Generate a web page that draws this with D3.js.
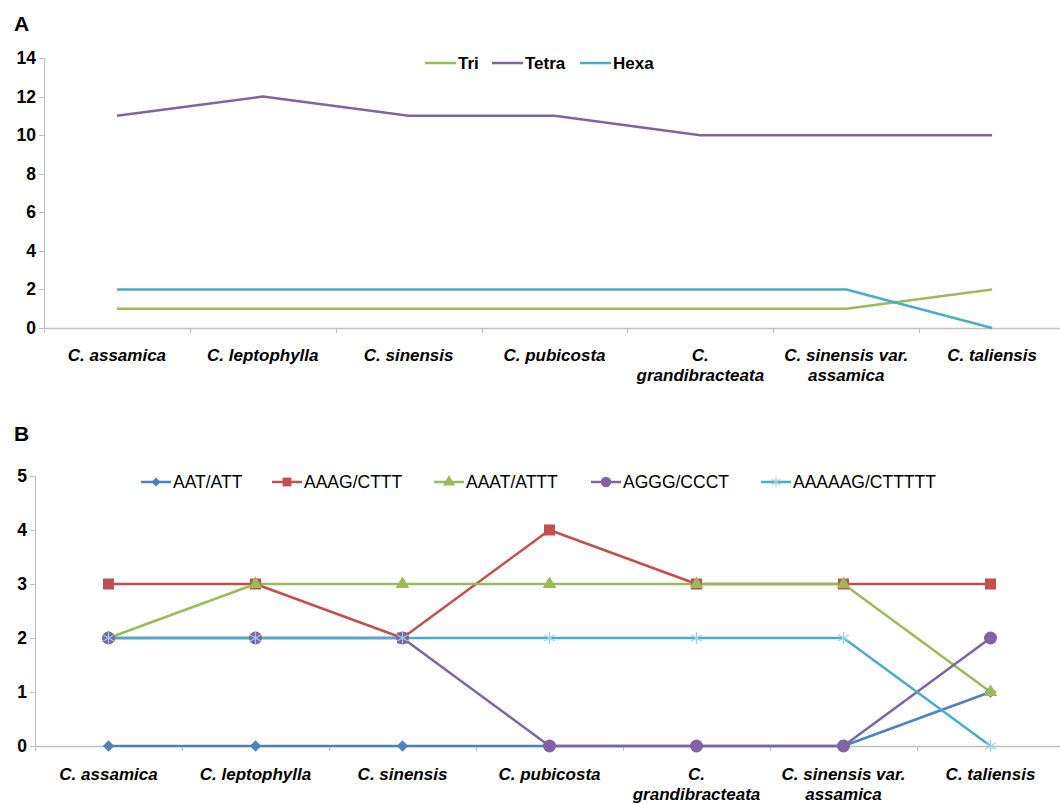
<!DOCTYPE html>
<html>
<head>
<meta charset="utf-8">
<script src="https://cdn.jsdelivr.net/npm/d3@7/dist/d3.min.js"></script>
<style>
  html, body { margin: 0; padding: 0; background: #fff; }
  svg text { font-family: "Liberation Sans", Arial, sans-serif; fill: #000; }
</style>
</head>
<body>
<script>
const species = [
  ['C. assamica'],
  ['C. leptophylla'],
  ['C. sinensis'],
  ['C. pubicosta'],
  ['C.', 'grandibracteata'],
  ['C. sinensis var.', 'assamica'],
  ['C. taliensis']
];

// Panel A: repeat-unit type counts
const seriesA = ['Tri', 'Tetra', 'Hexa'];
const triVals = [1, 1, 1, 1, 1, 1, 2];
const tetraVals = [11, 12, 11, 11, 10, 10, 10];
const hexaVals = [2, 2, 2, 2, 2, 2, 0];
const ticksA = [0, 2, 4, 6, 8, 10, 12, 14];

// Panel B: motif counts
const seriesB = ['AAT/ATT', 'AAAG/CTTT', 'AAAT/ATTT', 'AGGG/CCCT', 'AAAAAG/CTTTTT'];
const aatVals = [0, 0, 0, 0, 0, 0, 1];
const aaagVals = [3, 3, 2, 4, 3, 3, 3];
const aaatVals = [2, 3, 3, 3, 3, 3, 1];
const agggVals = [2, 2, 2, 0, 0, 0, 2];
const hexVals = [2, 2, 2, 2, 2, 2, 0];
const ticksB = [0, 1, 2, 3, 4, 5];

const W = 1060, H = 804;
const axisColor = '#bfbfbf';

const svg = d3.select('body').append('svg')
  .attr('width', W).attr('height', H);

function drawPanel(cfg) {
  const g = svg.append('g');
  const x = d3.scaleBand().domain(d3.range(species.length)).range([cfg.x0, cfg.x1]).padding(0);
  const y = d3.scaleLinear().domain([0, cfg.ymax]).range([cfg.yBottom, cfg.yTop]);

  // panel letter
  g.append('text')
    .attr('x', 14).attr('y', cfg.letterY)
    .style('font-size', '21px').style('font-weight', 'bold')
    .text(cfg.letter);

  // y axis
  g.append('line')
    .attr('x1', cfg.x0 + 0.5).attr('x2', cfg.x0 + 0.5)
    .attr('y1', y(cfg.ymax)).attr('y2', y(0))
    .attr('stroke', axisColor);
  cfg.ticks.forEach(t => {
    g.append('line')
      .attr('x1', cfg.x0 - 5).attr('x2', cfg.x0)
      .attr('y1', Math.round(y(t)) + 0.5).attr('y2', Math.round(y(t)) + 0.5)
      .attr('stroke', axisColor);
    g.append('text')
      .attr('x', cfg.x0 - 8).attr('y', y(t) + 6)
      .attr('text-anchor', 'end')
      .style('font-size', '17.5px').style('font-weight', 'bold')
      .text(t);
  });

  // x axis
  g.append('line')
    .attr('x1', cfg.x0).attr('x2', W)
    .attr('y1', Math.round(y(0)) + 0.5).attr('y2', Math.round(y(0)) + 0.5)
    .attr('stroke', axisColor).attr('stroke-width', 1.5);
  d3.range(species.length).forEach(i => {
    const bx = Math.round(x(i)) + 0.5;
    g.append('line')
      .attr('x1', bx).attr('x2', bx)
      .attr('y1', y(0)).attr('y2', y(0) + 5)
      .attr('stroke', axisColor);
  });
  species.forEach((lines, i) => {
    const t = g.append('text')
      .attr('x', x(i) + x.bandwidth() / 2)
      .attr('y', y(0) + cfg.labelDy)
      .attr('text-anchor', 'middle')
      .style('font-size', '17px').style('font-style', 'italic').style('font-weight', 'bold');
    lines.forEach((ln, k) => {
      t.append('tspan')
        .attr('x', x(i) + x.bandwidth() / 2)
        .attr('dy', k === 0 ? 0 : 20)
        .text(ln);
    });
  });

  const line = d3.line()
    .x((d, i) => x(i) + x.bandwidth() / 2)
    .y(d => y(d));

  // lines first, markers on top
  cfg.series.forEach(s => {
    g.append('path')
      .datum(s.values)
      .attr('d', line)
      .attr('fill', 'none')
      .attr('stroke', s.color)
      .attr('stroke-width', 2.5)
      .attr('stroke-linejoin', 'round');
  });
  cfg.series.forEach(s => {
    if (!s.marker) return;
    s.values.forEach((v, i) => {
      drawMarker(g, s.marker, x(i) + x.bandwidth() / 2, y(v), s.markerColor || s.color);
    });
  });

  // legend
  cfg.series.forEach((s, k) => {
    const lx = cfg.legendX[k];
    const ly = cfg.legendY;
    g.append('line')
      .attr('x1', lx).attr('x2', lx + cfg.legendLine)
      .attr('y1', ly).attr('y2', ly)
      .attr('stroke', s.color).attr('stroke-width', 2.5);
    if (s.marker) drawMarker(g, s.marker, lx + cfg.legendLine / 2, ly, s.markerColor || s.color, 0.8);
    g.append('text')
      .attr('x', lx + cfg.legendLine + 2).attr('y', ly + 6)
      .style('font-size', cfg.legendFont).style('font-weight', cfg.legendWeight)
      .text(s.name);
  });
}

function drawMarker(g, type, cx, cy, color, sc = 1) {
  if (type === 'diamond') {
    const s = 8 * sc;
    g.append('rect')
      .attr('x', -s / 2).attr('y', -s / 2)
      .attr('width', s).attr('height', s)
      .attr('transform', `translate(${cx},${cy}) rotate(45)`)
      .attr('fill', color);
  } else if (type === 'square') {
    const s = 11 * sc;
    g.append('rect')
      .attr('x', cx - s / 2).attr('y', cy - s / 2)
      .attr('width', s).attr('height', s)
      .attr('fill', color);
  } else if (type === 'triangle') {
    g.append('path')
      .attr('d', d3.symbol(d3.symbolTriangle, 80 * sc)())
      .attr('transform', `translate(${cx},${cy})`)
      .attr('fill', color);
  } else if (type === 'circle') {
    g.append('circle')
      .attr('cx', cx).attr('cy', cy).attr('r', 6.5 * sc)
      .attr('fill', color);
  } else if (type === 'star') {
    const r = 6 * sc;
    [0, 60, 120].forEach(a => {
      const rad = a * Math.PI / 180;
      g.append('line')
        .attr('x1', cx - r * Math.sin(rad)).attr('y1', cy - r * Math.cos(rad))
        .attr('x2', cx + r * Math.sin(rad)).attr('y2', cy + r * Math.cos(rad))
        .attr('stroke', color).attr('stroke-width', 1.2);
    });
  }
}

drawPanel({
  letter: 'A', letterY: 31,
  x0: 44, x1: 1065, yTop: 58, yBottom: 328, ymax: 14,
  ticks: ticksA, labelDy: 33,
  series: [
    { name: seriesA[0], values: triVals, color: '#9bbb59' },
    { name: seriesA[1], values: tetraVals, color: '#8064a2' },
    { name: seriesA[2], values: hexaVals, color: '#4bacc6' }
  ],
  legendX: [425, 492, 580], legendY: 63, legendLine: 31,
  legendFont: '17px', legendWeight: 'bold'
});

drawPanel({
  letter: 'B', letterY: 441,
  x0: 35, x1: 1064, yTop: 476, yBottom: 746, ymax: 5,
  ticks: ticksB, labelDy: 34,
  series: [
    { name: seriesB[0], values: aatVals, color: '#4f81bd', marker: 'diamond' },
    { name: seriesB[1], values: aaagVals, color: '#c0504d', marker: 'square' },
    { name: seriesB[2], values: aaatVals, color: '#9bbb59', marker: 'triangle' },
    { name: seriesB[3], values: agggVals, color: '#8064a2', marker: 'circle' },
    { name: seriesB[4], values: hexVals, color: '#4bacc6', marker: 'star', markerColor: '#93d3ea' }
  ],
  legendX: [141, 272, 434, 591, 761], legendY: 482, legendLine: 30,
  legendFont: '17.5px', legendWeight: 'normal'
});
</script>
</body>
</html>
